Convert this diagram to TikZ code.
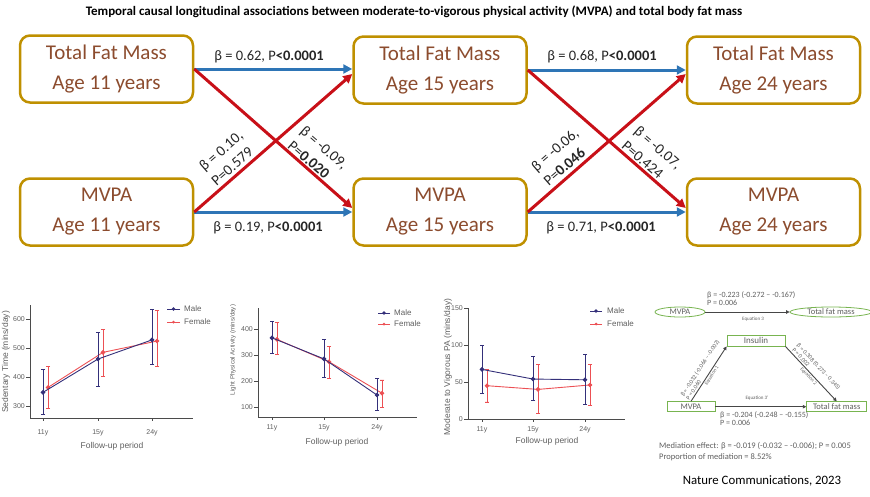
\documentclass[tikz,border=0pt]{standalone}
\usepackage{fontspec}
\setmainfont{Carlito}
\newfontfamily\arialf{Liberation Sans}
\usetikzlibrary{arrows.meta,shapes.geometric}
\definecolor{gold}{RGB}{191,144,0}
\definecolor{brownt}{RGB}{140,76,46}
\definecolor{blueA}{RGB}{46,117,182}
\definecolor{redA}{RGB}{200,16,24}
\definecolor{navy}{RGB}{52,48,122}
\definecolor{femred}{RGB}{236,80,84}
\definecolor{axisg}{RGB}{75,75,75}
\definecolor{textg}{RGB}{95,95,95}
\definecolor{greenb}{RGB}{120,180,80}
\definecolor{darkl}{RGB}{70,70,70}
\newcommand{\ErrBar}[5]{%
  \draw[#5] (#1,{\chB-\chK*(#3)}) -- (#1,{\chB-\chK*(#4)})
     ({#1-2},{\chB-\chK*(#3)}) -- ({#1+2},{\chB-\chK*(#3)})
     ({#1-2},{\chB-\chK*(#4)}) -- ({#1+2},{\chB-\chK*(#4)});
  \fill[#5] (#1,{\chB-\chK*(#2)}) circle (1.8pt);
}
\begin{document}
\begin{tikzpicture}[x=1pt,y=-1pt,
  fbox/.style={draw=gold, line width=2.5pt, rounded corners=10pt, fill=white,
    minimum width=173pt, minimum height=67pt, inner sep=0pt, align=center,
    text=brownt, font=\fontsize{21}{30}\selectfont},
  barrow/.style={draw=blueA, line width=3pt, -{Triangle[length=9pt,width=9pt]}},
  rarrow/.style={draw=redA, line width=3pt, -{Triangle[length=9pt,width=9pt]}},
  elab/.style={font=\fontsize{14.5}{17}\selectfont, text=black!85, inner sep=0pt},
  dlab/.style={font=\fontsize{15}{19}\selectfont, text=black!85, align=left, inner sep=0pt},
  axis/.style={draw=axisg, line width=0.8pt},
  tick/.style={font=\arialf\fontsize{7}{8}\selectfont, text=textg, inner sep=1pt},
  xtitle/.style={font=\arialf\fontsize{8.5}{10}\selectfont, text=textg, inner sep=0pt},
  ytitle/.style={font=\arialf\fontsize{8.5}{10}\selectfont, text=textg, inner sep=0pt, rotate=90},
  legt/.style={font=\arialf\fontsize{8}{9}\selectfont, text=textg, inner sep=0pt, anchor=west},
  mal/.style={draw=navy, fill=navy, line width=0.9pt},
  fem/.style={draw=femred, fill=femred, line width=0.9pt},
  ell/.style={ellipse, draw=greenb, line width=0.8pt, inner sep=0pt, text=textg,
    font=\fontsize{8.5}{9}\selectfont},
  gbox/.style={rectangle, draw=greenb, line width=0.8pt, inner sep=0pt, text=textg,
    font=\fontsize{8.5}{9}\selectfont},
  marrow/.style={draw=darkl, line width=0.9pt, -{Triangle[length=3.5pt,width=3.5pt]}},
  mtxt/.style={font=\fontsize{8}{8.5}\selectfont, text=textg, inner sep=0pt, align=left},
  eqt/.style={font=\fontsize{5}{6}\selectfont, text=textg, inner sep=1pt},
  slab/.style={font=\fontsize{6}{6.5}\selectfont, text=textg, inner sep=1.5pt, align=left}
]
\useasboundingbox (0,0) rectangle (870,496);

% title
\node[font=\bfseries\fontsize{13}{15}\selectfont] (title) at (414,12)
  {Temporal causal longitudinal associations between moderate-to-vigorous physical activity (MVPA) and total body fat mass};

% boxes
\node[fbox] (t11) at (106.5,69) {Total Fat Mass\\Age 11 years};
\node[fbox] (t15) at (440,70) {Total Fat Mass\\Age 15 years};
\node[fbox] (t24) at (773.5,70) {Total Fat Mass\\Age 24 years};
\node[fbox] (m11) at (106.5,212) {MVPA\\Age 11 years};
\node[fbox] (m15) at (440,212) {MVPA\\Age 15 years};
\node[fbox] (m24) at (773.5,212) {MVPA\\Age 24 years};

% arrows
\draw[barrow] (t11.east) -- (t11.east -| t15.west);
\draw[barrow] (t15.east) -- (t15.east -| t24.west);
\draw[barrow] (m11.east) -- (m15.west);
\draw[barrow] (m15.east) -- (m24.west);
\draw[rarrow] (t11.east) -- ([yshift=4pt]m15.west);
\draw[rarrow] (m11.east) -- ([yshift=-4pt]t15.west);
\draw[rarrow] (t15.east) -- ([yshift=4pt]m24.west);
\draw[rarrow] (m15.east) -- ([yshift=-4pt]t24.west);

% edge labels
\node[elab] (l1) at (269,57) {β = 0.62, P\textbf{<0.0001}};
\node[elab] (l2) at (268,228) {β = 0.19, P\textbf{<0.0001}};
\node[elab] (l3) at (602,57) {β = 0.68, P\textbf{<0.0001}};
\node[elab] (l4) at (601,228) {β = 0.71, P\textbf{<0.0001}};
\node[dlab, rotate=41] (d1) at (227,158) {β = 0.10,\\P=0.579};
\node[dlab, rotate=-41] (d2) at (318,155) {β = -0.09,\\P=\textbf{0.020}};
\node[dlab, rotate=41] (d3) at (561,157) {β = -0.06,\\P=\textbf{0.046}};
\node[dlab, rotate=-41] (d4) at (652,155) {β = -0.07,\\P=0.424};

% ---------- chart 1
\def\chB{493}\def\chK{0.29}
\draw[axis] (30,305) -- (30,418) -- (193,418);
\foreach \v in {300,400,500,600} {
  \draw[axis] (26,{\chB-\chK*\v}) -- (30,{\chB-\chK*\v});
  \node[tick, anchor=east] at (26,{\chB-\chK*\v}) {\v};}
\foreach \xx/\lab in {43/11y,98/15y,152/24y} {
  \draw[axis] (\xx,418) -- (\xx,421);
  \node[tick] at (\xx,433) {\lab};}
\node[xtitle] at (112,446) {Follow-up period};
\node[ytitle] at (6,362) {Sedentary Time (mins/day)};
\ErrBar{48}{364}{292}{436}{fem}
\ErrBar{103}{485}{401}{564}{fem}
\ErrBar{157}{524}{436}{630}{fem}
\draw[fem, fill=none] (48,{\chB-\chK*364}) -- (103,{\chB-\chK*485}) -- (157,{\chB-\chK*524});
\ErrBar{43}{347}{272}{426}{mal}
\ErrBar{98}{462}{369}{554}{mal}
\ErrBar{152}{528}{444}{632}{mal}
\draw[mal, fill=none] (43,{\chB-\chK*347}) -- (98,{\chB-\chK*462}) -- (152,{\chB-\chK*528});
\draw[mal] (167,309) -- (180,309); \fill[navy] (173.5,309) circle (1.8pt);
\node[legt] at (184,309) {Male};
\draw[fem] (167,322) -- (180,322); \fill[femred] (173.5,322) circle (1.5pt);
\node[legt] at (184,322) {Female};

% ---------- chart 2
\def\chB{433}\def\chK{0.26}
\draw[axis] (258,308) -- (258,417) -- (417,417);
\foreach \v in {100,200,300,400} {
  \draw[axis] (254,{\chB-\chK*\v}) -- (258,{\chB-\chK*\v});
  \node[tick, anchor=east] at (254,{\chB-\chK*\v}) {\v};}
\foreach \xx/\lab in {272/11y,324/15y,377/24y} {
  \draw[axis] (\xx,417) -- (\xx,420);
  \node[tick] at (\xx,428) {\lab};}
\node[xtitle] at (337,442) {Follow-up period};
\node[ytitle, font=\arialf\fontsize{6.2}{7}\selectfont] at (233,350) {Light Physical Activity (mins/day)};
\ErrBar{277}{360}{303}{424}{fem}
\ErrBar{329}{274}{208}{332}{fem}
\ErrBar{382}{153}{97}{204}{fem}
\draw[fem, fill=none] (277,{\chB-\chK*360}) -- (329,{\chB-\chK*274}) -- (382,{\chB-\chK*153});
\ErrBar{272}{366}{306}{428}{mal}
\ErrBar{324}{285}{214}{358}{mal}
\ErrBar{377}{146}{88}{208}{mal}
\draw[mal, fill=none] (272,{\chB-\chK*366}) -- (324,{\chB-\chK*285}) -- (377,{\chB-\chK*146});
\draw[mal] (378,313) -- (390,313); \fill[navy] (384,313) circle (1.8pt);
\node[legt] at (394,313) {Male};
\draw[fem] (378,324) -- (390,324); \fill[femred] (384,324) circle (1.5pt);
\node[legt] at (394,324) {Female};

% ---------- chart 3
\def\chB{419}\def\chK{0.74}
\draw[axis] (468,308) -- (468,419) -- (625,419);
\foreach \v in {0,50,100,150} {
  \draw[axis] (464,{\chB-\chK*\v}) -- (468,{\chB-\chK*\v});
  \node[tick, anchor=east] at (464,{\chB-\chK*\v}) {\v};}
\foreach \xx/\lab in {482/11y,533/15y,585/24y} {
  \draw[axis] (\xx,419) -- (\xx,422);
  \node[tick] at (\xx,430) {\lab};}
\node[xtitle] at (547,441) {Follow-up period};
\node[ytitle] at (448,367) {Moderate to Vigorous PA (mins/day)};
\ErrBar{487}{45}{23}{67}{fem}
\ErrBar{538}{40}{7}{74}{fem}
\ErrBar{590}{46}{18}{74}{fem}
\draw[fem, fill=none] (487,{\chB-\chK*45}) -- (538,{\chB-\chK*40}) -- (590,{\chB-\chK*46});
\ErrBar{482}{67}{35}{100}{mal}
\ErrBar{533}{54}{25}{85}{mal}
\ErrBar{585}{53}{20}{87}{mal}
\draw[mal, fill=none] (482,{\chB-\chK*67}) -- (533,{\chB-\chK*54}) -- (585,{\chB-\chK*53});
\draw[mal] (590,311) -- (602,311); \fill[navy] (596,311) circle (1.8pt);
\node[legt] at (607,311) {Male};
\draw[fem] (590,324) -- (602,324); \fill[femred] (596,324) circle (1.5pt);
\node[legt] at (607,324) {Female};

% ---------- mediation diagram
\node[ell, minimum width=50pt, minimum height=10pt] (emv) at (680,312) {MVPA};
\node[ell, minimum width=82pt, minimum height=10pt] (etf) at (831,312) {Total fat mass};
\draw[marrow] (emv) -- (etf);
\node[mtxt, anchor=west] (b3) at (707,295) {β = -0.223 (-0.272 – -0.167)};
\node[mtxt, anchor=west] (p3) at (707,303) {P = 0.006};
\node[eqt] (e3) at (753,319.5) {Equation 3};
\node[gbox, minimum width=58pt, minimum height=11pt, font=\fontsize{9}{9}\selectfont] (ins) at (756,340.5) {Insulin};
\node[gbox, minimum width=48pt, minimum height=10pt] (bmv) at (691,406.7) {MVPA};
\node[gbox, minimum width=60pt, minimum height=10pt] (btf) at (836.7,406.7) {Total fat mass};
\draw[marrow] (bmv.north) -- (ins.south west)
  node[midway, sloped, above, slab] {β = -0.032 (-0.066 – -0.002)\\P = 0.060}
  node[midway, sloped, below, eqt] {Equation 1};
\draw[marrow] (ins.south east) -- (btf.north)
  node[midway, sloped, above, slab] {β = 0.308 (0.273 – 0.345)\\P = 0.002}
  node[midway, sloped, below, eqt] {Equation 2};
\draw[marrow] (bmv.east) -- (btf.west);
\node[eqt] (e3b) at (757,398.5) {Equation 3'};
\node[mtxt, anchor=west] (b4) at (720,415) {β = -0.204 (-0.248 – -0.155)};
\node[mtxt, anchor=west] (p4) at (720,422.5) {P = 0.006};
\node[mtxt, anchor=west, font=\fontsize{8.5}{9}\selectfont] (med1) at (659,446) {Mediation effect: β = -0.019 (-0.032 – -0.006); P = 0.005};
\node[mtxt, anchor=west, font=\fontsize{8.5}{9}\selectfont] (med2) at (659,457) {Proportion of mediation = 8.52\%};

\node[font=\fontsize{12.8}{14}\selectfont] (src) at (762,481) {Nature Communications, 2023};
\end{tikzpicture}
\end{document}
